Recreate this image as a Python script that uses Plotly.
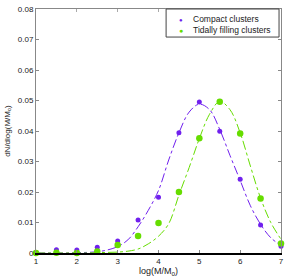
import plotly.graph_objects as go

# Data points
x_pts = [1, 1.5, 2, 2.5, 3, 3.5, 4, 4.5, 5, 5.5, 6, 6.5, 7]
compact = [0.0002, 0.0011, 0.0010, 0.0019, 0.0039, 0.0108, 0.0183, 0.0394, 0.0495, 0.0399, 0.0242, 0.0092, 0.0022]
tidal = [0.0, 0.0001, 0.0, 0.0005, 0.0026, 0.0056, 0.0098, 0.0200, 0.0376, 0.0496, 0.0392, 0.0179, 0.0031]

# Fitted curves
x_fit = [1, 1.25, 1.5, 1.75, 2, 2.25, 2.5, 2.75, 3, 3.25, 3.5, 3.75, 4, 4.25, 4.5, 4.75,
         5, 5.25, 5.5, 5.75, 6, 6.25, 6.5, 6.75, 7]
compact_fit = [0.0, 0.0, 0.0, 0.0, 0.0001, 0.0002, 0.0004, 0.0010, 0.0021, 0.0043, 0.0086, 0.0140,
               0.0205, 0.0305, 0.0394, 0.0462, 0.0488, 0.0470, 0.0405, 0.0320, 0.0238, 0.0155,
               0.0094, 0.0050, 0.0025]
tidal_fit = [0.0, 0.0, 0.0, 0.0, 0.0, 0.0, 0.0001, 0.0002, 0.0003, 0.0006, 0.0013, 0.0030,
             0.0055, 0.0096, 0.0190, 0.0280, 0.0375, 0.0455, 0.0497, 0.0470, 0.0394, 0.0285,
             0.0180, 0.0100, 0.0045]

x_ticks = [1, 2, 3, 4, 5, 6, 7]
y_ticks = [0, 0.01, 0.02, 0.03, 0.04, 0.05, 0.06, 0.07, 0.08]
y_tick_labels = ["0", "0.01", "0.02", "0.03", "0.04", "0.05", "0.06", "0.07", "0.08"]
series_names = ["Compact clusters", "Tidally filling clusters"]

purple = "#7020ee"
green = "#66dd00"
font = "Liberation Sans, Arial, sans-serif"

fig = go.Figure()
fig.add_trace(go.Scatter(x=x_fit, y=compact_fit, mode="lines",
                         line=dict(color=purple, width=1, dash="dashdot", shape="spline"),
                         showlegend=False, hoverinfo="skip"))
fig.add_trace(go.Scatter(x=x_fit, y=tidal_fit, mode="lines",
                         line=dict(color=green, width=1, dash="dashdot", shape="spline"),
                         showlegend=False, hoverinfo="skip"))
fig.add_trace(go.Scatter(x=x_pts, y=compact, mode="markers", name=series_names[0], showlegend=False,
                         marker=dict(color=purple, size=5, symbol="circle"), cliponaxis=False))
fig.add_trace(go.Scatter(x=x_pts, y=tidal, mode="markers", name=series_names[1], showlegend=False,
                         marker=dict(color=green, size=6.5, symbol="circle"), cliponaxis=False))
# dummy trace for the top axis
fig.add_trace(go.Scatter(x=[None], y=[None], xaxis="x2", showlegend=False, hoverinfo="skip"))

annotations = [
    dict(text="log(M/M<sub>o</sub>)", xref="paper", yref="paper", x=0.5, y=-0.045, xanchor="center",
         yanchor="top", showarrow=False, font=dict(size=9, family=font, color="#222")),
    dict(text="dN/dlog(M/M<sub>o</sub>)", xref="paper", yref="paper", x=-0.115, y=0.5, xanchor="center",
         yanchor="middle", textangle=-90, showarrow=False, font=dict(size=8, family=font, color="#222")),
    # legend
    dict(text="●", xref="paper", yref="paper", x=0.591, y=0.956, xanchor="center", yanchor="middle",
         showarrow=False, font=dict(size=6, color=purple)),
    dict(text="●", xref="paper", yref="paper", x=0.591, y=0.913, xanchor="center", yanchor="middle",
         showarrow=False, font=dict(size=7, color=green)),
    dict(text=series_names[0], xref="paper", yref="paper", x=0.633, y=0.957, xanchor="left",
         yanchor="middle", showarrow=False, font=dict(size=8.5, family=font, color="#222")),
    dict(text=series_names[1], xref="paper", yref="paper", x=0.633, y=0.913, xanchor="left",
         yanchor="middle", showarrow=False, font=dict(size=8.5, family=font, color="#222")),
]

fig.update_layout(
    width=288, height=279,
    margin=dict(l=36, r=7, t=9, b=26),
    plot_bgcolor="white", paper_bgcolor="white",
    font=dict(family=font, size=8, color="#222"),
    showlegend=False,
    xaxis=dict(range=[1, 7], tickvals=x_ticks, ticks="inside", ticklen=3, tickcolor="#888",
               showline=True, linecolor="black", linewidth=1.5, mirror=False, showgrid=False,
               zeroline=False, tickfont=dict(size=8), automargin=False),
    xaxis2=dict(range=[1, 7], overlaying="x", side="top", tickvals=x_ticks, ticks="inside", ticklen=3,
                tickcolor="#aaa", showticklabels=False, showline=True, linecolor="#888", linewidth=1,
                showgrid=False, zeroline=False, automargin=False),
    yaxis=dict(range=[0, 0.08], tickvals=y_ticks, ticktext=y_tick_labels, ticks="inside", ticklen=3,
               tickcolor="#888", showline=True, linecolor="#888", linewidth=1, mirror="ticks",
               showgrid=False, zeroline=False, tickfont=dict(size=8), automargin=False),
    annotations=annotations,
    shapes=[dict(type="rect", xref="paper", yref="paper", x0=0.531, x1=0.992, y0=0.885, y1=1.0,
                 line=dict(color="#444", width=1), fillcolor="white", layer="above")],
)
fig.write_html("out.html", config={"displayModeBar": False},
               post_script="document.body.style.margin='0';document.body.style.overflow='hidden';")
